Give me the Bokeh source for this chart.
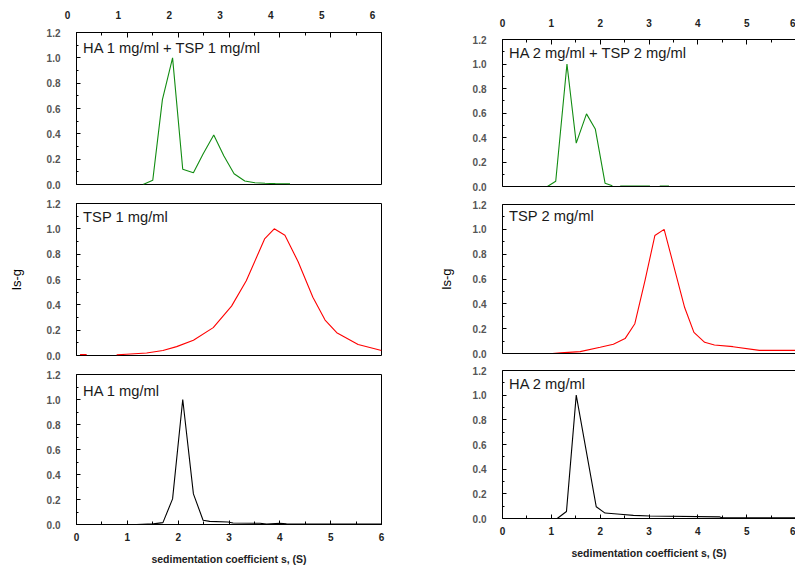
from bokeh.plotting import figure
from bokeh.layouts import row, column
from bokeh.models import (Range1d, LinearAxis, FixedTicker, PrintfTickFormatter, Label)
from bokeh.embed import file_html
from bokeh.resources import INLINE

nan = float("nan")

# sedimentation coefficient s (S) and normalised ls-g*(s) for each sample
mix1_s = [1.31, 1.50, 1.69, 1.89, 2.09, 2.30, 2.49, 2.70, 2.90, 3.10, 3.31, 3.51, 3.71, 3.91, 4.11, 4.20]
mix1_g = [0.0, 0.033, 0.67, 1.0, 0.12, 0.093, 0.24, 0.39, 0.225, 0.085, 0.028, 0.014, 0.01, 0.007, 0.006, 0.005]

tsp1_s = [0.07, 0.20, nan, 0.79, 0.98, 1.38, 1.70, 1.97, 2.30, 2.69, 3.05, 3.34, 3.70, 3.89, 4.10,
          4.36, 4.65, 4.89, 5.12, 5.54, 6.0]
tsp1_g = [0.007, 0.007, nan, 0.005, 0.01, 0.02, 0.04, 0.07, 0.12, 0.22, 0.39, 0.59, 0.92, 1.0, 0.95,
          0.74, 0.46, 0.28, 0.18, 0.087, 0.04]

ha1_s = [1.18, 1.51, 1.70, 1.89, 2.09, 2.30, 2.49, 2.62, 2.98, 3.08, 3.61, 3.74, 4.00, 4.13, 6.0]
ha1_g = [0.0, 0.005, 0.015, 0.205, 1.0, 0.245, 0.034, 0.025, 0.02, 0.012, 0.01, 0.003, 0.01, 0.005, 0.003]

mix2_s = [0.92, 1.09, 1.32, 1.51, 1.72, 1.90, 2.10, 2.25, nan, 2.41, 2.61, 2.81, 3.02, nan, 3.22, 3.41]
mix2_g = [0.0, 0.043, 1.0, 0.354, 0.593, 0.47, 0.027, 0.006, nan, 0.004, 0.004, 0.004, 0.004, nan, 0.004, 0.004]

tsp2_s = [1.02, 1.19, 1.59, 2.00, 2.27, 2.51, 2.71, 2.92, 3.12, 3.31, 3.53, 3.73, 3.92, 4.14, 4.34,
          4.72, 5.26, 6.0]
tsp2_g = [0.0, 0.005, 0.015, 0.05, 0.075, 0.12, 0.24, 0.59, 0.95, 1.0, 0.67, 0.37, 0.17, 0.09, 0.068,
          0.055, 0.025, 0.025]

ha2_s = [1.12, 1.31, 1.51, 1.92, 2.10, 2.41, 2.68, 3.02, 4.45, 4.50, 6.0]
ha2_g = [0.0, 0.057, 1.0, 0.095, 0.044, 0.035, 0.025, 0.02, 0.013, 0.005, 0.005]

sample_names = ["HA 1 mg/ml + TSP 1 mg/ml", "TSP 1 mg/ml", "HA 1 mg/ml",
                "HA 2 mg/ml + TSP 2 mg/ml", "TSP 2 mg/ml", "HA 2 mg/ml"]

x_ticks = [0, 1, 2, 3, 4, 5, 6]
x_minor = [0.5, 1.5, 2.5, 3.5, 4.5, 5.5]
y_ticks = [0.0, 0.2, 0.4, 0.6, 0.8, 1.0, 1.2]
y_minor = [0.1, 0.3, 0.5, 0.7, 0.9, 1.1]

x_title = "sedimentation coefficient s, (S)"
y_title = "ls-g"

GREEN = "#118c11"
RED = "#ff0000"
BLACK = "#000000"
FONT = "Liberation Sans"


def tick_style(ax, label_size, bold=True, color="#222222"):
    ax.major_tick_in = 5
    ax.major_tick_out = 0
    ax.minor_tick_in = 3
    ax.minor_tick_out = 0
    ax.major_tick_line_color = "black"
    ax.minor_tick_line_color = "black"
    ax.axis_line_color = "black"
    ax.major_label_text_font = FONT
    ax.major_label_text_font_size = label_size
    ax.major_label_text_font_style = "bold" if bold else "normal"
    ax.major_label_text_color = color


def edge_axis():
    # plain frame edge: axis line only
    return LinearAxis(ticker=FixedTicker(ticks=[]), major_label_text_color=None,
                      major_label_text_font_size="1px",
                      major_tick_line_color=None, minor_tick_line_color=None,
                      axis_line_color="black", major_label_standoff=0)


def x_ticker():
    return FixedTicker(ticks=x_ticks, minor_ticks=x_minor)


def panel(width, height, borders, xs, ys, color, name, name_y, y_label_standoff=None,
          top="none", bottom=False, outline=True, label_x=0.13):
    left, right, top_b, bottom_b = borders
    p = figure(width=width, height=height, x_range=Range1d(0, 6), y_range=Range1d(0, 1.2),
               output_backend="svg", toolbar_location=None,
               x_axis_location=None, y_axis_location=None,
               min_border_left=left, min_border_right=right,
               min_border_top=top_b, min_border_bottom=bottom_b)
    p.xgrid.visible = False
    p.ygrid.visible = False
    p.background_fill_color = "white"
    p.border_fill_color = "white"
    p.outline_line_color = "black" if outline else None
    p.outline_line_width = 1

    yax = LinearAxis(ticker=FixedTicker(ticks=y_ticks, minor_ticks=y_minor),
                     formatter=PrintfTickFormatter(format="%.1f"))
    tick_style(yax, "10px", bold=True, color="#555555")
    yax.major_tick_in = 4
    yax.minor_tick_in = 2
    yax.major_label_standoff = 16
    if y_label_standoff is not None:
        yax.axis_label = y_title
        yax.axis_label_text_font = FONT
        yax.axis_label_text_font_size = "13px"
        yax.axis_label_text_font_style = "normal"
        yax.axis_label_text_color = "black"
        yax.axis_label_standoff = y_label_standoff
    p.add_layout(yax, "left")

    if top == "ticks":
        # tick marks only; the numbers sit in a strip above this panel
        tax = LinearAxis(ticker=x_ticker())
        tick_style(tax, "1px")
        tax.major_label_text_color = None
        tax.major_label_standoff = 0
        p.add_layout(tax, "above")
    elif top == "plain":
        tax = LinearAxis(ticker=x_ticker())
        tick_style(tax, "10px")
        tax.major_label_standoff = 13
        p.add_layout(tax, "above")
    elif not outline:
        p.add_layout(edge_axis(), "above")

    if bottom:
        bax = LinearAxis(ticker=x_ticker())
        tick_style(bax, "10px")
        bax.major_tick_in = 4
        bax.minor_tick_in = 3
        bax.major_label_standoff = 8
        bax.axis_label = x_title
        bax.axis_label_text_font = FONT
        bax.axis_label_text_font_size = "10.5px"
        bax.axis_label_text_font_style = "bold"
        bax.axis_label_text_color = "#222222"
        bax.axis_label_standoff = 9
        p.add_layout(bax, "below")
    elif not outline:
        p.add_layout(edge_axis(), "below")

    p.line(xs, ys, line_color=color, line_width=1.1)

    p.add_layout(Label(x=label_x, y=name_y, text=name, text_baseline="middle",
                       text_font=FONT, text_font_size="14.7px", text_color="#1a1a1a"))
    return p


# number strip above the first panel: its scale runs slightly left of the frame below
strip = figure(width=400, height=24, x_range=Range1d(0, 6), y_range=Range1d(0, 1),
               output_backend="svg", toolbar_location=None,
               x_axis_location=None, y_axis_location=None,
               min_border_left=67, min_border_right=28, min_border_top=2, min_border_bottom=18)
strip.xgrid.visible = False
strip.ygrid.visible = False
strip.outline_line_color = None
strip.border_fill_color = "white"
sax = LinearAxis(ticker=FixedTicker(ticks=x_ticks))
tick_style(sax, "10px")
sax.major_tick_line_color = None
sax.minor_tick_line_color = None
sax.axis_line_color = None
sax.major_label_standoff = 4
strip.add_layout(sax, "below")

# left column: 1 mg/ml samples
a1 = panel(400, 169, (76, 19, 8, 9), mix1_s, mix1_g, GREEN, sample_names[0], 1.076, top="ticks")
a2 = panel(400, 171, (76, 19, 10, 9), tsp1_s, tsp1_g, RED, sample_names[1], 1.094, y_label_standoff=20)
a3 = panel(400, 203, (76, 19, 10, 41), ha1_s, ha1_g, BLACK, sample_names[2], 1.066, bottom=True)

# right column: 2 mg/ml samples (frame runs to the page edge)
b1 = panel(395, 195, (102, 0, 39, 9), mix2_s, mix2_g, GREEN, sample_names[3], 1.09,
           top="plain", outline=False, label_x=0.135)
b2 = panel(395, 166, (102, 0, 9, 8), tsp2_s, tsp2_g, RED, sample_names[4], 1.106,
           y_label_standoff=16, outline=False, label_x=0.135)
b3 = panel(395, 206, (102, 0, 9, 49), ha2_s, ha2_g, BLACK, sample_names[5], 1.094,
           bottom=True, outline=False, label_x=0.135)

left_col = column(row(strip, spacing=0), column(a1, a2, a3, spacing=0), spacing=0)
right_col = column(b1, b2, b3, spacing=0)
layout = row(left_col, right_col, spacing=0)

open("out.html", "w").write(file_html(layout, INLINE))
